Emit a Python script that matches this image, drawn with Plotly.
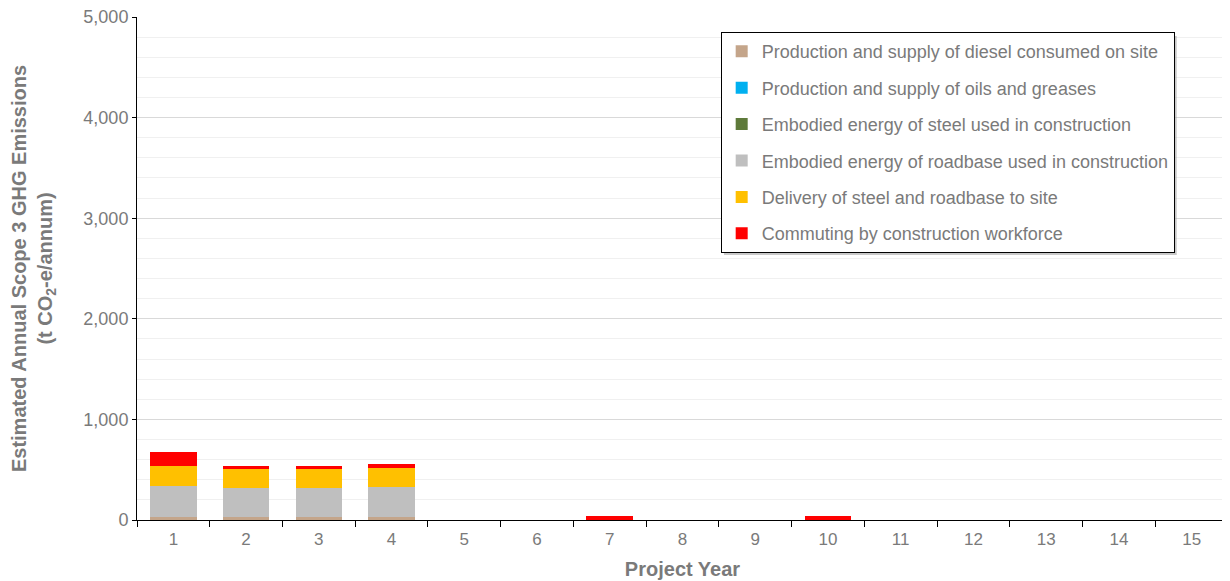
import plotly.graph_objects as go

years = [str(i) for i in range(1, 16)]

diesel = [30, 30, 30, 30, 0, 0, 0, 0, 0, 0, 0, 0, 0, 0, 0]
oils = [0, 0, 0, 0, 0, 0, 0, 0, 0, 0, 0, 0, 0, 0, 0]
steel = [0, 0, 0, 0, 0, 0, 0, 0, 0, 0, 0, 0, 0, 0, 0]
roadbase = [310, 290, 290, 298, 0, 0, 0, 0, 0, 0, 0, 0, 0, 0, 0]
delivery = [200, 185, 185, 192, 0, 0, 0, 0, 0, 0, 0, 0, 0, 0, 0]
commuting = [140, 35, 35, 36, 0, 0, 40, 0, 0, 40, 0, 0, 0, 0, 0]

series = [
    ("Production and supply of diesel consumed on site", diesel, "#C4A58A"),
    ("Production and supply of oils and greases", oils, "#00B0F0"),
    ("Embodied energy of steel used in construction", steel, "#5E7A3A"),
    ("Embodied energy of roadbase used in construction", roadbase, "#BFBFBF"),
    ("Delivery of steel and roadbase to site", delivery, "#FFC000"),
    ("Commuting by construction workforce", commuting, "#FF0000"),
]

fig = go.Figure()

# one bar trace per emission source, stacked
for i, (name, vals, col) in enumerate(series):
    fig.add_trace(go.Bar(x=years, y=vals, name=name, marker_color=col,
                         marker_line_width=0, legendgroup=f"g{i}"))

grey = "#7a7a7a"

# soft shadow behind the legend box
fig.add_shape(type="rect", xref="paper", yref="paper",
              x0=0.538, x1=0.953, y0=0.527, y1=0.962,
              fillcolor="#9a9a9a", opacity=0.55, line_width=0, layer="above")

fig.update_layout(
    width=1222, height=573,
    margin=dict(l=129, r=2, t=9, b=61),
    barmode="stack",
    bargap=0.36,
    plot_bgcolor="white",
    paper_bgcolor="white",
    font=dict(family="Liberation Sans, Arial, sans-serif", size=17, color=grey),
    showlegend=True,
    legend=dict(
        x=0.535, y=0.97, xanchor="left", yanchor="top",
        traceorder="grouped", tracegroupgap=10,
        bgcolor="white", bordercolor="black", borderwidth=1,
        font=dict(size=18, color=grey),
        itemwidth=30,
    ),
    xaxis=dict(
        type="category",
        automargin=False,
        tickson="boundaries",
        ticks="outside", ticklen=6, tickcolor="black",
        ticklabelstandoff=4,
        showline=True, linecolor="black", linewidth=1,
        showgrid=False,
        title=dict(text="<b>Project Year</b>", font=dict(size=20, color=grey), standoff=13),
        tickfont=dict(size=17, color=grey),
    ),
    yaxis=dict(
        automargin=False,
        range=[0, 5000],
        dtick=1000,
        tickformat=",",
        ticklabeloverflow="allow",
        ticks="outside", ticklen=4, tickcolor="black",
        showline=True, linecolor="black", linewidth=1,
        showgrid=True, gridcolor="#D9D9D9", gridwidth=1,
        minor=dict(dtick=200, showgrid=True, gridcolor="#F0F0F0", gridwidth=1),
        zeroline=False,
        title=dict(text="<b>Estimated Annual Scope 3 GHG Emissions<br>(t CO<sub>2</sub>-e/annum)</b>",
                   font=dict(size=20, color=grey), standoff=28),
        tickfont=dict(size=18, color=grey),
    ),
)

fig.write_html("out.html")
